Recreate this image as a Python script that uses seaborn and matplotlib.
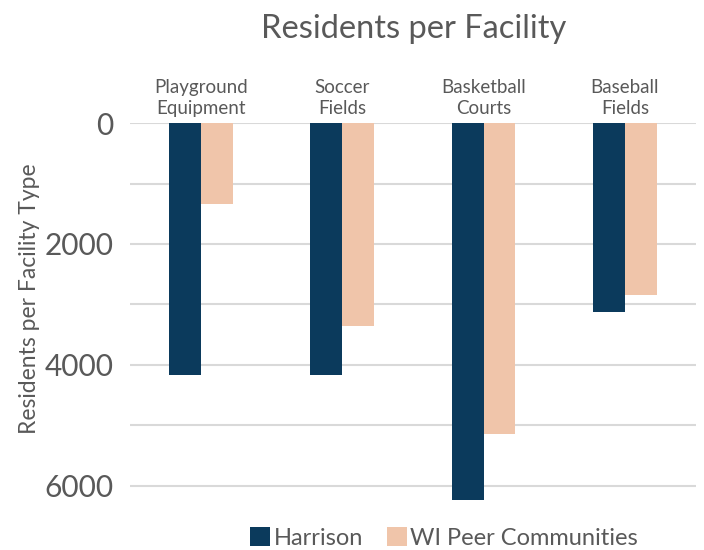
import numpy as np
import pandas as pd
import seaborn as sns
import matplotlib.pyplot as plt
from matplotlib.patches import Patch

categories = ['Playground\nEquipment', 'Soccer\nFields', 'Basketball\nCourts', 'Baseball\nFields']
harrison = [4160, 4160, 6240, 3125]
peer = [1335, 3350, 5135, 2840]
series = ['Harrison', 'WI Peer Communities']
colors = ['#0B3A5C', '#F0C5AA']

df = pd.DataFrame({
	'Facility': categories * 2,
	'Residents': harrison + peer,
	'Group': [series[0]] * 4 + [series[1]] * 4,
})

sns.set_theme(style='white')
plt.rcParams['font.family'] = ['Lato', 'DejaVu Sans']
text_color = '#595959'

fig = plt.figure(figsize=(7.04, 5.5), dpi=100)
ax = fig.add_axes([0.185, 0.0836, 0.803, 0.6927])

sns.barplot(data=df, x='Facility', y='Residents', hue='Group', palette=colors,
	width=0.45, gap=0, saturation=1, linewidth=0, ax=ax, legend=False, zorder=3)

ax.set_ylim(6300, 0)
ax.set_yticks([0, 2000, 4000, 6000])
ax.set_yticks([1000, 3000, 5000], minor=True)
ax.grid(axis='y', which='both', color='#d9d9d9', linewidth=1.5, zorder=0)
ax.set_axisbelow(True)
for s in ax.spines.values():
	s.set_visible(False)

ax.xaxis.tick_top()
ax.xaxis.set_label_position('top')
ax.tick_params(axis='x', length=0, pad=4, labelsize=13.5, labelcolor=text_color)
for lbl in ax.get_xticklabels():
	lbl.set_linespacing(1.3)
ax.tick_params(axis='y', which='both', length=0, pad=12, labelsize=21.5, labelcolor=text_color)
ax.set_xlabel('')
ax.set_ylabel('Residents per Facility Type', fontsize=16.5, color=text_color)
ax.yaxis.set_label_coords(-0.159, 0.54)

fig.text(0.588, 0.948, 'Residents per Facility', ha='center', va='center',
	fontsize=23.5, color=text_color)

handles = [Patch(facecolor=c, edgecolor='none') for c in colors]
fig.legend(handles, series, loc='center', bbox_to_anchor=(0.631, 0.022), ncol=2,
	frameon=False, fontsize=17, labelcolor=text_color, handlelength=0.85,
	handleheight=0.85, handletextpad=0.15, columnspacing=1.0)

fig.savefig('out.png', dpi=100)
